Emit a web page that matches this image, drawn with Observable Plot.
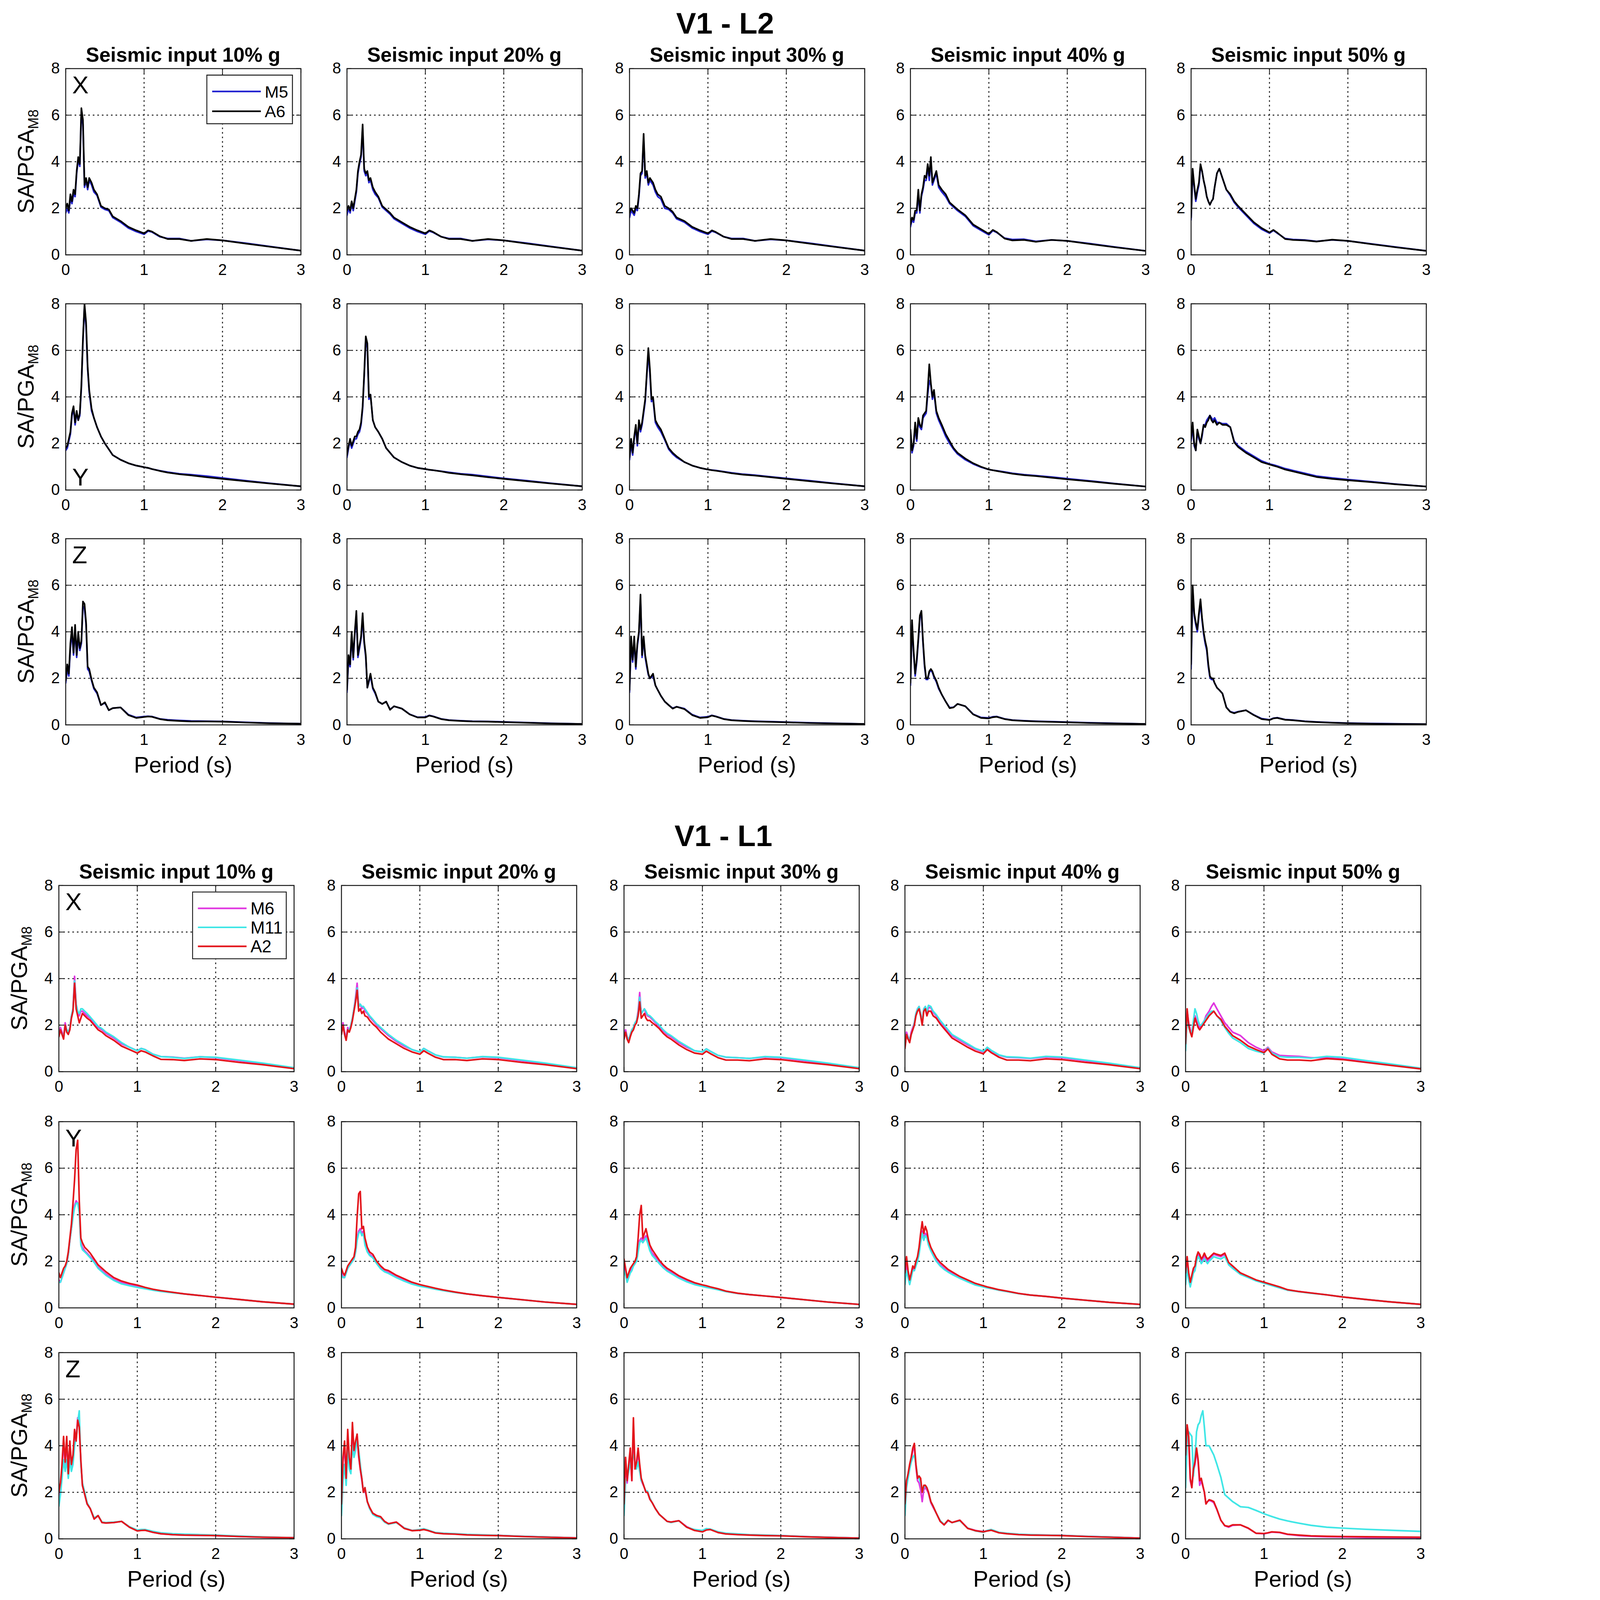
<!DOCTYPE html>
<html>
<head>
<meta charset="utf-8">
<script src="https://cdn.jsdelivr.net/npm/d3@7"></script>
<script src="https://cdn.jsdelivr.net/npm/@observablehq/plot@0.6"></script>
<style>
  html, body { margin: 0; padding: 0; background: #fff; overflow: hidden; }
  #fig { position: relative; width: 4435px; height: 4932px; background: #fff; overflow: hidden;
         font-family: "Liberation Sans", Arial, Helvetica, sans-serif; color: #000; transform-origin: 0 0; }
  .lbl { position: absolute; white-space: nowrap; transform: translate(-50%, -50%); line-height: 1; }
  .ylab { transform: translate(-50%, -50%) rotate(-90deg); }
  .panel { position: absolute; }
</style>
</head>
<body>
<div id="fig"></div>
<script>
// period grid shared by every spectrum (s)
const periods = [0, 0.02, 0.04, 0.06, 0.08, 0.1, 0.12, 0.14, 0.16, 0.18, 0.2, 0.22, 0.24, 0.26, 0.28, 0.3, 0.33, 0.36, 0.4, 0.45,
                 0.5, 0.55, 0.6, 0.7, 0.8, 0.9, 1.0, 1.05, 1.1, 1.2, 1.3, 1.45, 1.6, 1.8, 2.0, 2.3, 2.6, 3.0];
const levels = ["10%", "20%", "30%", "40%", "50%"];
const xTicks = [0, 1, 2, 3];
const yTicks = [0, 2, 4, 6, 8];

// ---- V1 - L2 : M5 / A6 ----
const L2_X10_M5 = [1.8, 2.0, 1.8, 2.4, 2.2, 2.6, 2.5, 3.5, 4.1, 3.8, 6.1, 5.6, 2.9, 3.2, 2.8, 3.2, 3.0, 2.7, 2.55, 2.05, 1.95, 1.9, 1.6, 1.4, 1.15, 1.0, 0.88, 1.02, 0.98, 0.78, 0.7, 0.7, 0.6, 0.66, 0.62, 0.5, 0.36, 0.18];
const L2_X10_A6 = [2.0, 2.2, 1.9, 2.6, 2.3, 2.8, 2.6, 3.6, 4.2, 3.9, 6.3, 5.8, 3.0, 3.3, 2.9, 3.3, 3.1, 2.8, 2.6, 2.1, 2.0, 1.95, 1.65, 1.45, 1.2, 1.05, 0.92, 1.05, 1.0, 0.8, 0.68, 0.68, 0.6, 0.68, 0.62, 0.48, 0.35, 0.18];
const L2_X20_M5 = [1.7, 2.0, 1.8, 2.2, 1.9, 2.3, 2.7, 3.5, 3.9, 4.2, 5.4, 3.6, 3.4, 3.5, 3.1, 3.2, 2.8, 2.6, 2.45, 2.05, 1.9, 1.75, 1.55, 1.35, 1.15, 1.0, 0.88, 1.02, 0.96, 0.78, 0.7, 0.7, 0.6, 0.66, 0.62, 0.5, 0.36, 0.18];
const L2_X20_A6 = [1.9, 2.1, 1.9, 2.3, 2.0, 2.4, 2.8, 3.6, 4.0, 4.3, 5.6, 3.7, 3.5, 3.6, 3.2, 3.3, 2.9, 2.7, 2.5, 2.1, 1.95, 1.8, 1.6, 1.4, 1.2, 1.05, 0.92, 1.05, 0.98, 0.78, 0.68, 0.68, 0.6, 0.68, 0.62, 0.48, 0.35, 0.18];
const L2_X30_M5 = [1.6, 1.9, 1.8, 1.7, 2.0, 1.9, 2.5, 3.4, 3.5, 5.0, 3.3, 3.5, 3.0, 3.2, 3.1, 3.0, 2.7, 2.5, 2.4, 2.0, 1.95, 1.8, 1.55, 1.4, 1.15, 1.0, 0.88, 1.02, 0.96, 0.78, 0.7, 0.7, 0.6, 0.66, 0.62, 0.5, 0.36, 0.18];
const L2_X30_A6 = [1.8, 2.0, 1.9, 1.8, 2.1, 2.0, 2.6, 3.5, 3.6, 5.2, 3.4, 3.6, 3.1, 3.3, 3.2, 3.1, 2.8, 2.6, 2.5, 2.1, 2.0, 1.85, 1.6, 1.45, 1.2, 1.05, 0.92, 1.05, 0.98, 0.78, 0.68, 0.68, 0.6, 0.68, 0.62, 0.48, 0.35, 0.18];
const L2_X40_M5 = [1.2, 1.5, 1.4, 1.8, 1.8, 2.6, 1.8, 2.5, 2.8, 3.2, 3.2, 3.8, 3.2, 4.1, 3.0, 3.2, 3.5, 2.9, 2.7, 2.5, 2.2, 2.05, 1.9, 1.65, 1.25, 1.05, 0.86, 1.04, 0.96, 0.72, 0.66, 0.67, 0.58, 0.64, 0.6, 0.48, 0.34, 0.17];
const L2_X40_A6 = [1.3, 1.6, 1.5, 1.9, 1.9, 2.8, 1.9, 2.6, 2.9, 3.4, 3.3, 3.9, 3.4, 4.2, 3.1, 3.3, 3.6, 3.0, 2.8, 2.6, 2.25, 2.1, 1.95, 1.7, 1.3, 1.1, 0.9, 1.07, 0.98, 0.7, 0.62, 0.64, 0.56, 0.64, 0.6, 0.46, 0.33, 0.17];
const L2_X50_M5 = [1.5, 3.5, 2.9, 2.3, 2.7, 3.0, 3.8, 3.6, 3.2, 2.9, 2.5, 2.3, 2.15, 2.3, 2.4, 2.9, 3.5, 3.7, 3.3, 2.8, 2.55, 2.25, 2.05, 1.7, 1.35, 1.1, 0.93, 1.05, 0.93, 0.7, 0.66, 0.64, 0.58, 0.64, 0.6, 0.47, 0.34, 0.17];
const L2_X50_A6 = [1.6, 3.7, 3.0, 2.4, 2.8, 3.1, 3.9, 3.6, 3.2, 2.9, 2.5, 2.3, 2.15, 2.3, 2.4, 2.9, 3.5, 3.7, 3.3, 2.8, 2.6, 2.3, 2.1, 1.75, 1.4, 1.15, 0.96, 1.07, 0.95, 0.68, 0.64, 0.62, 0.57, 0.65, 0.6, 0.46, 0.33, 0.17];

const L2_Y10_M5 = [1.7, 1.8, 2.1, 2.4, 3.2, 3.5, 2.8, 3.3, 3.0, 3.2, 4.4, 6.4, 7.9, 7.0, 5.2, 4.2, 3.4, 3.1, 2.7, 2.3, 2.0, 1.75, 1.5, 1.3, 1.15, 1.05, 0.98, 0.95, 0.9, 0.83, 0.77, 0.7, 0.66, 0.6, 0.52, 0.4, 0.29, 0.16];
const L2_Y10_A6 = [1.8, 1.9, 2.2, 2.5, 3.3, 3.6, 2.9, 3.4, 3.0, 3.3, 4.5, 6.5, 8.0, 7.2, 5.3, 4.3, 3.5, 3.1, 2.7, 2.3, 2.0, 1.75, 1.5, 1.3, 1.15, 1.05, 0.98, 0.95, 0.9, 0.82, 0.75, 0.68, 0.63, 0.55, 0.48, 0.38, 0.28, 0.16];
const L2_Y20_M5 = [1.4, 1.8, 2.1, 1.8, 2.0, 2.2, 2.2, 2.4, 2.5, 2.8, 3.5, 4.9, 6.5, 6.1, 3.9, 4.1, 3.0, 2.7, 2.5, 2.2, 1.8, 1.6, 1.4, 1.2, 1.05, 0.95, 0.9, 0.87, 0.85, 0.81, 0.76, 0.7, 0.66, 0.58, 0.5, 0.4, 0.29, 0.16];
const L2_Y20_A6 = [1.5, 1.9, 2.2, 1.9, 2.1, 2.3, 2.3, 2.5, 2.6, 2.9, 3.6, 5.0, 6.6, 6.3, 4.0, 4.1, 3.0, 2.7, 2.5, 2.2, 1.8, 1.6, 1.4, 1.2, 1.05, 0.95, 0.9, 0.87, 0.85, 0.8, 0.74, 0.68, 0.63, 0.55, 0.48, 0.38, 0.28, 0.16];
const L2_Y30_M5 = [1.3, 2.0, 1.5, 2.2, 2.7, 1.9, 2.9, 2.5, 2.8, 3.3, 3.8, 4.9, 5.9, 5.0, 3.8, 3.9, 2.9, 2.7, 2.5, 2.15, 1.75, 1.55, 1.4, 1.2, 1.05, 0.95, 0.88, 0.86, 0.84, 0.79, 0.74, 0.68, 0.64, 0.57, 0.5, 0.4, 0.29, 0.16];
const L2_Y30_A6 = [1.4, 2.2, 1.6, 2.3, 2.8, 2.0, 3.0, 2.6, 2.9, 3.4, 3.9, 5.0, 6.1, 5.2, 3.9, 4.0, 3.0, 2.8, 2.6, 2.2, 1.8, 1.6, 1.45, 1.2, 1.05, 0.95, 0.88, 0.85, 0.83, 0.78, 0.72, 0.66, 0.62, 0.55, 0.48, 0.38, 0.28, 0.16];
const L2_Y40_M5 = [2.4, 1.6, 1.9, 2.7, 2.1, 3.0, 2.7, 2.6, 3.1, 3.2, 3.3, 4.1, 4.7, 4.5, 3.9, 4.2, 3.3, 3.0, 2.7, 2.3, 2.0, 1.75, 1.55, 1.3, 1.12, 0.98, 0.88, 0.85, 0.83, 0.78, 0.72, 0.66, 0.62, 0.56, 0.49, 0.39, 0.28, 0.15];
const L2_Y40_A6 = [2.6, 1.7, 2.0, 2.9, 2.2, 3.1, 2.8, 2.7, 3.2, 3.3, 3.4, 4.3, 5.4, 4.6, 4.0, 4.3, 3.4, 3.1, 2.8, 2.4, 2.1, 1.8, 1.6, 1.35, 1.15, 1.0, 0.88, 0.85, 0.82, 0.76, 0.7, 0.64, 0.6, 0.53, 0.46, 0.37, 0.27, 0.15];
const L2_Y50_M5 = [2.1, 2.7, 1.9, 1.7, 2.5, 2.2, 2.0, 2.3, 2.8, 2.8, 3.0, 3.1, 3.2, 3.1, 3.0, 3.1, 2.9, 2.9, 2.85, 2.85, 2.7, 2.1, 1.9, 1.65, 1.45, 1.25, 1.12, 1.08, 1.03, 0.92, 0.84, 0.72, 0.6, 0.52, 0.45, 0.36, 0.26, 0.15];
const L2_Y50_A6 = [2.2, 2.9, 2.0, 1.7, 2.6, 2.3, 2.0, 2.4, 2.8, 2.7, 2.9, 3.0, 3.2, 3.0, 2.9, 3.0, 2.8, 2.9, 2.8, 2.8, 2.7, 2.05, 1.85, 1.6, 1.4, 1.2, 1.1, 1.05, 1.0, 0.88, 0.8, 0.68, 0.56, 0.48, 0.42, 0.34, 0.25, 0.15];

const L2_Z10_M5 = [1.8, 2.4, 2.1, 3.3, 4.0, 3.0, 4.1, 2.9, 3.8, 3.2, 3.5, 5.1, 5.0, 4.3, 2.4, 2.3, 1.9, 1.55, 1.35, 0.85, 0.95, 0.63, 0.72, 0.75, 0.44, 0.32, 0.36, 0.37, 0.36, 0.26, 0.22, 0.19, 0.17, 0.16, 0.15, 0.11, 0.08, 0.05];
const L2_Z10_A6 = [1.9, 2.6, 2.2, 3.5, 4.2, 3.1, 4.3, 3.0, 4.0, 3.3, 3.6, 5.3, 5.2, 4.4, 2.5, 2.4, 1.95, 1.6, 1.4, 0.85, 0.97, 0.63, 0.72, 0.75, 0.42, 0.3, 0.34, 0.36, 0.35, 0.25, 0.2, 0.17, 0.15, 0.15, 0.14, 0.1, 0.07, 0.05];
const L2_Z20_M5 = [1.4, 2.8, 2.5, 3.8, 2.8, 3.9, 4.7, 2.9, 3.3, 3.7, 4.6, 3.5, 2.9, 1.6, 1.85, 2.1, 1.55, 1.35, 1.0, 0.9, 1.0, 0.66, 0.8, 0.7, 0.46, 0.33, 0.34, 0.41, 0.37, 0.26, 0.21, 0.18, 0.16, 0.15, 0.13, 0.1, 0.07, 0.04];
const L2_Z20_A6 = [1.5, 3.0, 2.6, 4.0, 2.9, 4.0, 4.9, 3.0, 3.4, 3.8, 4.8, 3.6, 3.0, 1.6, 1.9, 2.2, 1.6, 1.4, 1.0, 0.9, 1.0, 0.65, 0.8, 0.7, 0.45, 0.32, 0.32, 0.4, 0.36, 0.25, 0.2, 0.17, 0.15, 0.14, 0.12, 0.09, 0.06, 0.04];
const L2_Z30_M5 = [1.4, 3.6, 2.7, 3.6, 2.4, 3.4, 3.9, 5.4, 2.9, 3.7, 2.9, 2.5, 2.15, 2.0, 2.05, 2.1, 1.7, 1.5, 1.25, 1.0, 0.85, 0.72, 0.78, 0.7, 0.44, 0.32, 0.35, 0.41, 0.37, 0.26, 0.21, 0.18, 0.16, 0.14, 0.12, 0.09, 0.07, 0.04];
const L2_Z30_A6 = [1.5, 3.8, 2.8, 3.8, 2.5, 3.5, 4.0, 5.6, 3.0, 3.8, 3.0, 2.6, 2.2, 2.0, 2.1, 2.2, 1.7, 1.5, 1.25, 1.0, 0.85, 0.7, 0.78, 0.68, 0.42, 0.3, 0.33, 0.4, 0.36, 0.25, 0.2, 0.17, 0.15, 0.13, 0.11, 0.08, 0.06, 0.04];
const L2_Z40_M5 = [1.7, 4.3, 3.1, 2.1, 2.7, 3.6, 4.6, 4.8, 3.5, 2.5, 1.95, 1.95, 2.25, 2.35, 2.25, 2.05, 1.85, 1.55, 1.3, 1.0, 0.74, 0.76, 0.9, 0.8, 0.46, 0.32, 0.3, 0.35, 0.36, 0.26, 0.21, 0.18, 0.16, 0.14, 0.12, 0.09, 0.07, 0.04];
const L2_Z40_A6 = [1.8, 4.5, 3.2, 2.2, 2.8, 3.7, 4.7, 4.9, 3.6, 2.6, 2.0, 2.0, 2.3, 2.4, 2.3, 2.1, 1.9, 1.6, 1.3, 1.0, 0.72, 0.75, 0.9, 0.8, 0.45, 0.3, 0.28, 0.33, 0.35, 0.25, 0.2, 0.17, 0.15, 0.13, 0.11, 0.08, 0.06, 0.04];
const L2_Z50_M5 = [2.4, 5.8, 4.7, 4.3, 4.0, 4.7, 5.2, 4.5, 3.9, 3.5, 3.2, 2.5, 2.05, 1.95, 1.95, 1.8, 1.6, 1.5, 1.35, 0.76, 0.57, 0.52, 0.57, 0.63, 0.43, 0.27, 0.22, 0.29, 0.31, 0.23, 0.21, 0.16, 0.13, 0.1, 0.08, 0.06, 0.05, 0.03];
const L2_Z50_A6 = [2.6, 6.0, 4.8, 4.4, 4.1, 4.8, 5.4, 4.6, 4.0, 3.6, 3.3, 2.6, 2.1, 2.0, 2.0, 1.8, 1.6, 1.5, 1.35, 0.75, 0.56, 0.5, 0.56, 0.63, 0.42, 0.25, 0.21, 0.28, 0.3, 0.22, 0.2, 0.15, 0.12, 0.09, 0.07, 0.05, 0.04, 0.03];

// ---- V1 - L1 : M6 / M11 / A2 ----
const L1_X10_M6 = [1.6, 1.9, 1.7, 1.5, 2.1, 1.8, 1.7, 1.9, 2.4, 2.7, 4.1, 2.9, 2.6, 2.4, 2.6, 2.6, 2.5, 2.4, 2.3, 2.1, 1.9, 1.8, 1.65, 1.45, 1.2, 1.05, 0.9, 1.0, 0.95, 0.75, 0.65, 0.63, 0.58, 0.64, 0.6, 0.47, 0.34, 0.16];
const L1_X10_M11 = [1.5, 1.8, 1.6, 1.5, 2.0, 1.8, 1.7, 1.9, 2.4, 2.7, 3.9, 2.9, 2.6, 2.5, 2.7, 2.7, 2.6, 2.5, 2.35, 2.15, 1.95, 1.85, 1.7, 1.5, 1.25, 1.05, 0.9, 1.0, 0.95, 0.75, 0.65, 0.62, 0.57, 0.64, 0.62, 0.5, 0.37, 0.17];
const L1_X10_A2 = [1.5, 1.8, 1.6, 1.4, 2.0, 1.7, 1.6, 1.8, 2.3, 2.6, 3.8, 2.7, 2.4, 2.1, 2.3, 2.5, 2.4, 2.3, 2.2, 2.0, 1.8, 1.7, 1.55, 1.35, 1.1, 0.95, 0.8, 0.9, 0.85, 0.68, 0.53, 0.52, 0.48, 0.55, 0.52, 0.4, 0.3, 0.13];
const L1_X20_M6 = [1.7, 2.1, 1.7, 1.45, 1.9, 1.8, 2.0, 2.3, 2.7, 3.2, 3.8, 2.8, 2.9, 2.7, 2.8, 2.6, 2.5, 2.35, 2.2, 2.0, 1.85, 1.7, 1.55, 1.3, 1.1, 0.95, 0.85, 1.0, 0.9, 0.72, 0.63, 0.62, 0.58, 0.64, 0.6, 0.47, 0.34, 0.16];
const L1_X20_M11 = [1.6, 2.0, 1.6, 1.4, 1.8, 1.8, 2.0, 2.3, 2.7, 3.1, 3.6, 2.8, 2.9, 2.8, 2.8, 2.7, 2.55, 2.4, 2.25, 2.05, 1.9, 1.75, 1.6, 1.35, 1.15, 0.95, 0.85, 1.0, 0.9, 0.72, 0.64, 0.62, 0.58, 0.65, 0.62, 0.5, 0.37, 0.17];
const L1_X20_A2 = [1.6, 2.0, 1.6, 1.35, 1.8, 1.7, 1.9, 2.2, 2.6, 3.0, 3.5, 2.6, 2.7, 2.5, 2.6, 2.4, 2.35, 2.2, 2.05, 1.9, 1.7, 1.55, 1.4, 1.2, 1.0, 0.85, 0.75, 0.9, 0.8, 0.62, 0.52, 0.52, 0.48, 0.55, 0.52, 0.4, 0.3, 0.13];
const L1_X30_M6 = [1.5, 1.8, 1.5, 1.35, 1.6, 1.8, 1.9, 2.1, 2.2, 2.6, 3.4, 2.5, 2.6, 2.7, 2.5, 2.4, 2.35, 2.25, 2.1, 1.95, 1.75, 1.6, 1.5, 1.25, 1.05, 0.9, 0.85, 0.98, 0.88, 0.7, 0.62, 0.6, 0.57, 0.63, 0.6, 0.47, 0.34, 0.16];
const L1_X30_M11 = [1.4, 1.7, 1.5, 1.3, 1.6, 1.8, 1.9, 2.1, 2.2, 2.5, 3.2, 2.5, 2.6, 2.7, 2.6, 2.45, 2.4, 2.3, 2.15, 2.0, 1.8, 1.65, 1.55, 1.3, 1.1, 0.9, 0.85, 0.98, 0.88, 0.7, 0.63, 0.6, 0.57, 0.65, 0.62, 0.5, 0.37, 0.17];
const L1_X30_A2 = [1.4, 1.7, 1.4, 1.25, 1.5, 1.7, 1.8, 2.0, 2.1, 2.4, 3.0, 2.3, 2.4, 2.5, 2.3, 2.2, 2.2, 2.1, 2.0, 1.85, 1.65, 1.5, 1.4, 1.15, 0.95, 0.8, 0.75, 0.88, 0.78, 0.6, 0.5, 0.5, 0.47, 0.55, 0.52, 0.4, 0.3, 0.13];
const L1_X40_M6 = [1.1, 1.7, 1.5, 1.35, 1.7, 1.9, 2.1, 2.5, 2.7, 2.8, 2.5, 2.1, 2.7, 2.8, 2.5, 2.75, 2.75, 2.55, 2.4, 2.15, 1.95, 1.75, 1.55, 1.35, 1.15, 0.97, 0.85, 1.02, 0.9, 0.7, 0.62, 0.6, 0.57, 0.63, 0.6, 0.47, 0.34, 0.16];
const L1_X40_M11 = [1.0, 1.6, 1.5, 1.3, 1.6, 1.8, 2.1, 2.5, 2.7, 2.8, 2.5, 2.1, 2.7, 2.8, 2.6, 2.85, 2.8, 2.6, 2.45, 2.2, 2.0, 1.8, 1.6, 1.4, 1.2, 1.0, 0.88, 1.05, 0.92, 0.72, 0.64, 0.62, 0.58, 0.66, 0.63, 0.5, 0.37, 0.17];
const L1_X40_A2 = [1.0, 1.6, 1.4, 1.25, 1.6, 1.8, 2.0, 2.4, 2.6, 2.7, 2.4, 2.0, 2.6, 2.7, 2.4, 2.6, 2.6, 2.4, 2.3, 2.05, 1.85, 1.65, 1.45, 1.25, 1.05, 0.88, 0.77, 0.95, 0.82, 0.62, 0.5, 0.5, 0.47, 0.55, 0.52, 0.4, 0.3, 0.13];
const L1_X50_M6 = [1.3, 2.6, 2.1, 1.8, 1.6, 2.0, 2.4, 2.2, 2.0, 1.9, 2.0, 2.1, 2.2, 2.4, 2.5, 2.6, 2.8, 2.95, 2.7, 2.4, 2.1, 1.9, 1.7, 1.55, 1.25, 1.05, 0.9, 1.05, 0.85, 0.7, 0.68, 0.66, 0.6, 0.6, 0.55, 0.42, 0.3, 0.13];
const L1_X50_M11 = [0.9, 2.3, 1.9, 1.7, 1.7, 2.2, 2.7, 2.5, 2.2, 2.0, 2.0, 2.1, 2.2, 2.3, 2.4, 2.5, 2.6, 2.6, 2.4, 2.2, 1.9, 1.65, 1.45, 1.25, 1.0, 0.88, 0.8, 1.02, 0.8, 0.65, 0.62, 0.62, 0.58, 0.66, 0.62, 0.48, 0.34, 0.15];
const L1_X50_A2 = [1.2, 2.7, 2.0, 1.7, 1.5, 1.9, 2.3, 2.1, 1.9, 1.8, 1.9, 2.0, 2.1, 2.2, 2.3, 2.4, 2.5, 2.6, 2.4, 2.25, 1.95, 1.75, 1.55, 1.35, 1.1, 0.95, 0.82, 0.98, 0.75, 0.55, 0.5, 0.5, 0.47, 0.56, 0.52, 0.4, 0.28, 0.12];

const L1_Y10_M6 = [1.2, 1.1, 1.3, 1.5, 1.7, 1.9, 2.3, 2.9, 3.4, 4.0, 4.4, 4.6, 4.5, 4.2, 2.8, 2.6, 2.45, 2.35, 2.2, 2.0, 1.75, 1.6, 1.45, 1.22, 1.08, 1.0, 0.92, 0.88, 0.84, 0.78, 0.72, 0.66, 0.6, 0.53, 0.46, 0.36, 0.26, 0.16];
const L1_Y10_M11 = [1.1, 1.1, 1.3, 1.5, 1.7, 1.9, 2.3, 2.9, 3.4, 3.9, 4.3, 4.5, 4.5, 4.1, 2.7, 2.5, 2.4, 2.3, 2.15, 1.95, 1.7, 1.55, 1.4, 1.18, 1.03, 0.95, 0.88, 0.85, 0.82, 0.76, 0.71, 0.65, 0.6, 0.53, 0.46, 0.36, 0.26, 0.16];
const L1_Y10_A2 = [1.5, 1.3, 1.5, 1.7, 1.8, 2.0, 2.4, 3.0, 3.6, 4.5, 5.5, 6.8, 7.2, 4.6, 3.0, 2.8, 2.6, 2.5, 2.35, 2.1, 1.85, 1.7, 1.55, 1.3, 1.15, 1.05, 0.98, 0.93, 0.88, 0.8, 0.74, 0.67, 0.6, 0.53, 0.46, 0.36, 0.26, 0.16];
const L1_Y20_M6 = [1.5, 1.35, 1.3, 1.5, 1.7, 1.8, 1.9, 2.0, 2.1, 2.4, 3.0, 3.3, 3.4, 3.2, 3.3, 2.8, 2.45, 2.3, 2.2, 1.95, 1.72, 1.58, 1.52, 1.33, 1.18, 1.05, 0.95, 0.92, 0.88, 0.82, 0.75, 0.67, 0.6, 0.52, 0.45, 0.35, 0.25, 0.15];
const L1_Y20_M11 = [1.4, 1.3, 1.3, 1.5, 1.7, 1.8, 1.9, 2.0, 2.1, 2.4, 2.9, 3.2, 3.3, 3.1, 3.2, 2.7, 2.4, 2.25, 2.15, 1.9, 1.68, 1.55, 1.48, 1.3, 1.15, 1.02, 0.93, 0.9, 0.87, 0.8, 0.74, 0.66, 0.6, 0.52, 0.45, 0.35, 0.25, 0.15];
const L1_Y20_A2 = [1.7, 1.5, 1.4, 1.6, 1.8, 1.9, 2.0, 2.1, 2.2, 2.6, 3.9, 4.9, 5.0, 3.4, 3.5, 3.0, 2.6, 2.4, 2.3, 2.0, 1.8, 1.65, 1.6, 1.4, 1.25, 1.1, 1.0, 0.96, 0.92, 0.84, 0.77, 0.68, 0.6, 0.52, 0.45, 0.35, 0.25, 0.15];
const L1_Y30_M6 = [1.8, 1.5, 1.2, 1.4, 1.6, 1.7, 1.8, 1.9, 2.1, 2.5, 2.9, 3.0, 2.9, 3.0, 3.1, 2.9, 2.55, 2.35, 2.2, 1.95, 1.76, 1.62, 1.52, 1.32, 1.16, 1.03, 0.94, 0.9, 0.87, 0.8, 0.71, 0.62, 0.57, 0.51, 0.45, 0.35, 0.25, 0.15];
const L1_Y30_M11 = [1.6, 1.4, 1.1, 1.3, 1.5, 1.6, 1.8, 1.9, 2.0, 2.4, 2.8, 2.9, 2.8, 2.9, 3.0, 2.8, 2.45, 2.25, 2.1, 1.9, 1.72, 1.58, 1.48, 1.28, 1.12, 1.0, 0.92, 0.88, 0.85, 0.78, 0.7, 0.62, 0.57, 0.51, 0.45, 0.35, 0.25, 0.15];
const L1_Y30_A2 = [2.1, 1.7, 1.3, 1.5, 1.7, 1.8, 1.9, 2.0, 2.2, 3.0, 4.0, 4.4, 3.0, 3.2, 3.4, 3.1, 2.7, 2.5, 2.3, 2.05, 1.85, 1.7, 1.6, 1.38, 1.22, 1.08, 0.99, 0.95, 0.9, 0.82, 0.72, 0.63, 0.57, 0.51, 0.45, 0.35, 0.25, 0.15];
const L1_Y40_M6 = [1.3, 1.9, 1.4, 1.1, 1.4, 1.7, 1.6, 1.9, 2.1, 2.4, 2.9, 3.3, 3.0, 3.2, 3.1, 2.75, 2.5, 2.3, 2.05, 1.85, 1.7, 1.58, 1.48, 1.3, 1.15, 1.0, 0.92, 0.88, 0.84, 0.77, 0.71, 0.62, 0.55, 0.49, 0.42, 0.33, 0.24, 0.15];
const L1_Y40_M11 = [1.0, 1.6, 1.3, 1.0, 1.3, 1.6, 1.6, 1.8, 2.0, 2.3, 2.8, 3.2, 2.9, 3.1, 3.0, 2.7, 2.45, 2.25, 2.0, 1.8, 1.65, 1.54, 1.44, 1.27, 1.12, 0.98, 0.9, 0.86, 0.83, 0.76, 0.7, 0.61, 0.55, 0.49, 0.42, 0.33, 0.24, 0.15];
const L1_Y40_A2 = [1.5, 2.2, 1.6, 1.2, 1.5, 1.8, 1.7, 2.0, 2.2, 2.6, 3.2, 3.7, 3.2, 3.5, 3.3, 2.9, 2.6, 2.4, 2.15, 1.95, 1.8, 1.65, 1.55, 1.35, 1.2, 1.05, 0.95, 0.9, 0.86, 0.78, 0.72, 0.62, 0.55, 0.49, 0.42, 0.33, 0.24, 0.15];
const L1_Y50_M6 = [1.3, 1.9, 1.3, 1.0, 1.3, 1.6, 1.7, 2.1, 2.3, 2.2, 2.0, 2.1, 2.25, 2.1, 2.0, 2.1, 2.2, 2.3, 2.25, 2.2, 2.3, 1.9, 1.75, 1.47, 1.32, 1.18, 1.08, 1.03, 0.98, 0.88, 0.77, 0.7, 0.64, 0.56, 0.47, 0.36, 0.26, 0.15];
const L1_Y50_M11 = [1.0, 1.7, 1.2, 0.9, 1.2, 1.5, 1.6, 2.0, 2.2, 2.1, 1.9, 2.0, 2.1, 2.0, 1.9, 2.0, 2.1, 2.2, 2.15, 2.1, 2.2, 1.85, 1.7, 1.44, 1.3, 1.16, 1.06, 1.01, 0.96, 0.86, 0.76, 0.69, 0.63, 0.56, 0.47, 0.36, 0.26, 0.15];
const L1_Y50_A2 = [1.5, 2.2, 1.5, 1.1, 1.4, 1.7, 1.8, 2.2, 2.4, 2.3, 2.1, 2.2, 2.35, 2.2, 2.1, 2.15, 2.25, 2.35, 2.3, 2.25, 2.35, 1.95, 1.8, 1.5, 1.35, 1.2, 1.1, 1.05, 1.0, 0.9, 0.78, 0.7, 0.64, 0.56, 0.47, 0.36, 0.26, 0.15];

const L1_Z10_M6 = [1.8, 2.3, 3.0, 4.2, 3.2, 4.2, 2.8, 4.0, 3.1, 3.5, 4.5, 4.3, 5.2, 5.0, 3.3, 2.3, 1.9, 1.5, 1.3, 0.85, 1.0, 0.7, 0.68, 0.7, 0.75, 0.5, 0.35, 0.37, 0.38, 0.28, 0.22, 0.18, 0.16, 0.15, 0.14, 0.1, 0.07, 0.05];
const L1_Z10_M11 = [1.4, 1.9, 2.6, 3.4, 2.9, 3.4, 2.6, 3.4, 2.9, 3.2, 4.0, 4.3, 5.0, 5.5, 3.2, 2.4, 2.0, 1.55, 1.3, 0.9, 1.0, 0.72, 0.7, 0.72, 0.75, 0.52, 0.38, 0.4, 0.4, 0.32, 0.26, 0.22, 0.2, 0.18, 0.16, 0.12, 0.08, 0.05];
const L1_Z10_A2 = [2.0, 2.4, 3.2, 4.4, 3.3, 4.4, 2.8, 4.2, 3.2, 3.6, 4.7, 4.2, 5.1, 4.8, 3.4, 2.3, 1.9, 1.5, 1.3, 0.85, 1.0, 0.7, 0.68, 0.7, 0.75, 0.5, 0.34, 0.36, 0.37, 0.28, 0.22, 0.18, 0.16, 0.15, 0.14, 0.1, 0.07, 0.05];
const L1_Z20_M6 = [1.4, 3.3, 4.0, 2.5, 4.5, 3.4, 3.0, 4.8, 3.7, 4.0, 4.4, 3.5, 3.0, 2.5, 2.0, 2.1, 1.6, 1.3, 1.1, 1.0, 0.93, 0.75, 0.65, 0.72, 0.47, 0.36, 0.38, 0.41, 0.37, 0.26, 0.23, 0.21, 0.18, 0.16, 0.15, 0.11, 0.08, 0.04];
const L1_Z20_M11 = [1.0, 2.5, 3.2, 2.3, 3.8, 3.0, 2.8, 4.0, 3.5, 3.8, 4.3, 3.8, 3.2, 2.6, 2.0, 2.2, 1.6, 1.3, 1.05, 0.95, 0.9, 0.72, 0.63, 0.7, 0.47, 0.36, 0.4, 0.43, 0.38, 0.27, 0.24, 0.22, 0.19, 0.17, 0.15, 0.11, 0.08, 0.04];
const L1_Z20_A2 = [1.5, 3.5, 4.2, 2.6, 4.7, 3.5, 3.0, 5.0, 3.8, 4.2, 4.5, 3.6, 3.0, 2.6, 2.0, 2.2, 1.6, 1.35, 1.1, 1.0, 0.95, 0.75, 0.65, 0.72, 0.45, 0.35, 0.37, 0.4, 0.36, 0.25, 0.22, 0.2, 0.17, 0.15, 0.14, 0.1, 0.07, 0.04];
const L1_Z30_M6 = [1.4, 3.3, 2.4, 3.1, 3.7, 2.5, 4.6, 3.2, 3.2, 3.7, 3.1, 2.5, 2.35, 2.2, 2.0, 2.0, 1.7, 1.55, 1.3, 1.05, 0.9, 0.75, 0.72, 0.78, 0.52, 0.38, 0.32, 0.4, 0.41, 0.28, 0.22, 0.19, 0.17, 0.15, 0.14, 0.1, 0.07, 0.03];
const L1_Z30_M11 = [1.0, 2.5, 2.6, 2.9, 3.2, 3.4, 3.6, 3.3, 3.0, 3.3, 2.9, 2.5, 2.4, 2.2, 2.05, 2.05, 1.75, 1.55, 1.3, 1.05, 0.9, 0.75, 0.7, 0.78, 0.5, 0.4, 0.36, 0.44, 0.42, 0.3, 0.24, 0.21, 0.18, 0.16, 0.14, 0.1, 0.07, 0.03];
const L1_Z30_A2 = [1.5, 3.5, 2.5, 3.2, 3.9, 2.5, 5.2, 3.0, 3.3, 3.9, 3.2, 2.6, 2.4, 2.2, 2.0, 2.0, 1.7, 1.55, 1.3, 1.05, 0.9, 0.75, 0.72, 0.78, 0.5, 0.36, 0.3, 0.38, 0.4, 0.27, 0.21, 0.18, 0.16, 0.14, 0.13, 0.09, 0.06, 0.03];
const L1_Z40_M6 = [1.4, 2.4, 2.7, 3.1, 3.4, 3.8, 3.9, 3.1, 2.5, 2.4, 2.1, 1.6, 2.1, 2.2, 2.1, 1.95, 1.55, 1.35, 1.1, 0.75, 0.6, 0.78, 0.7, 0.8, 0.46, 0.36, 0.31, 0.35, 0.38, 0.27, 0.23, 0.19, 0.17, 0.16, 0.15, 0.11, 0.08, 0.03];
const L1_Z40_M11 = [1.0, 2.2, 2.6, 3.0, 3.3, 3.5, 3.6, 3.2, 2.7, 2.6, 2.4, 2.0, 2.2, 2.3, 2.2, 2.0, 1.6, 1.4, 1.1, 0.78, 0.62, 0.8, 0.7, 0.78, 0.46, 0.34, 0.28, 0.36, 0.4, 0.28, 0.24, 0.2, 0.18, 0.16, 0.15, 0.11, 0.08, 0.03];
const L1_Z40_A2 = [1.5, 2.5, 2.8, 3.2, 3.5, 3.9, 4.1, 3.2, 2.6, 2.7, 2.6, 2.0, 2.3, 2.3, 2.2, 2.0, 1.6, 1.4, 1.1, 0.75, 0.6, 0.8, 0.7, 0.8, 0.45, 0.35, 0.3, 0.34, 0.37, 0.26, 0.22, 0.18, 0.16, 0.15, 0.14, 0.1, 0.07, 0.03];
const L1_Z50_M6 = [3.4, 4.8, 4.3, 2.5, 2.2, 2.9, 3.2, 3.8, 3.3, 2.3, 2.5, 2.25, 2.0, 1.5, 1.6, 1.65, 1.62, 1.55, 1.25, 0.8, 0.56, 0.5, 0.58, 0.6, 0.45, 0.24, 0.22, 0.25, 0.29, 0.27, 0.19, 0.14, 0.11, 0.09, 0.08, 0.06, 0.05, 0.04];
const L1_Z50_M11 = [2.2, 4.2, 4.6, 4.5, 4.4, 2.7, 3.5, 4.6, 4.9, 5.0, 5.3, 5.5, 4.8, 4.0, 4.0, 4.0, 3.8, 3.6, 3.2, 2.65, 1.9, 1.75, 1.6, 1.38, 1.35, 1.22, 1.08, 1.02, 0.96, 0.85, 0.77, 0.67, 0.58, 0.5, 0.46, 0.41, 0.37, 0.32];
const L1_Z50_A2 = [3.6, 4.9, 4.4, 2.6, 2.2, 3.0, 3.3, 3.9, 3.4, 2.5, 2.6, 2.3, 2.0, 1.5, 1.6, 1.68, 1.65, 1.6, 1.27, 0.8, 0.57, 0.53, 0.6, 0.6, 0.46, 0.24, 0.23, 0.26, 0.3, 0.28, 0.2, 0.16, 0.13, 0.11, 0.1, 0.09, 0.08, 0.07];

const l2Names = ["M5", "A6"];
const l2Colors = ["#2424d0", "#000000"];
const l1Names = ["M6", "M11", "A2"];
const l1Colors = ["#e036e0", "#3fe6e6", "#e3151b"];

const groups = [
  {
    title: "V1 - L2", titleX: 2235, titleY: 72,
    names: l2Names, colors: l2Colors,
    cols: [202, 1069, 1940, 2806, 3671],
    rows: [211, 936, 1660],
    dirAnchor: {X: "top", Y: "bottom", Z: "top"},
    legend: {dx: 434, w: 267, step: 61, font: 52},
    data: {
      X: [[L2_X10_M5, L2_X10_A6], [L2_X20_M5, L2_X20_A6], [L2_X30_M5, L2_X30_A6], [L2_X40_M5, L2_X40_A6], [L2_X50_M5, L2_X50_A6]],
      Y: [[L2_Y10_M5, L2_Y10_A6], [L2_Y20_M5, L2_Y20_A6], [L2_Y30_M5, L2_Y30_A6], [L2_Y40_M5, L2_Y40_A6], [L2_Y50_M5, L2_Y50_A6]],
      Z: [[L2_Z10_M5, L2_Z10_A6], [L2_Z20_M5, L2_Z20_A6], [L2_Z30_M5, L2_Z30_A6], [L2_Z40_M5, L2_Z40_A6], [L2_Z50_M5, L2_Z50_A6]]
    }
  },
  {
    title: "V1 - L1", titleX: 2230, titleY: 2576,
    names: l1Names, colors: l1Colors,
    cols: [181, 1052, 1923, 2789, 3654],
    rows: [2729, 3457, 4169],
    dirAnchor: {X: "top", Y: "top", Z: "top"},
    legend: {dx: 411, w: 292, step: 58.5, font: 53},
    data: {
      X: [[L1_X10_M6, L1_X10_M11, L1_X10_A2], [L1_X20_M6, L1_X20_M11, L1_X20_A2], [L1_X30_M6, L1_X30_M11, L1_X30_A2], [L1_X40_M6, L1_X40_M11, L1_X40_A2], [L1_X50_M6, L1_X50_M11, L1_X50_A2]],
      Y: [[L1_Y10_M6, L1_Y10_M11, L1_Y10_A2], [L1_Y20_M6, L1_Y20_M11, L1_Y20_A2], [L1_Y30_M6, L1_Y30_M11, L1_Y30_A2], [L1_Y40_M6, L1_Y40_M11, L1_Y40_A2], [L1_Y50_M6, L1_Y50_M11, L1_Y50_A2]],
      Z: [[L1_Z10_M6, L1_Z10_M11, L1_Z10_A2], [L1_Z20_M6, L1_Z20_M11, L1_Z20_A2], [L1_Z30_M6, L1_Z30_M11, L1_Z30_A2], [L1_Z40_M6, L1_Z40_M11, L1_Z40_A2], [L1_Z50_M6, L1_Z50_M11, L1_Z50_A2]]
    }
  }
];

const FONT = "Liberation Sans, Arial, Helvetica, sans-serif";
const INK = "#1a1a1a";
const W = 725, H = 574;               // axes box
const ML = 90, MR = 40, MT = 40, MB = 100;
const fig = d3.select("#fig");

function label(html, x, y, size, weight, cls) {
  fig.append("div").attr("class", "lbl " + (cls || ""))
    .style("left", x + "px").style("top", y + "px")
    .style("font-size", size + "px").style("font-weight", weight)
    .html(html);
}

function panel(series, colors, dir, anchor) {
  const dotted = {stroke: INK, strokeOpacity: 1, strokeWidth: 3, strokeDasharray: "5,9"};
  return Plot.plot({
    width: W + ML + MR, height: H + MT + MB,
    marginLeft: ML, marginRight: MR, marginTop: MT, marginBottom: MB,
    x: {domain: [0, 3]},
    y: {domain: [0, 8]},
    style: {fontFamily: FONT, fontSize: "48px", color: "#000", background: "transparent", overflow: "visible"},
    marks: [
      Plot.gridX({ticks: [1, 2], ...dotted}),
      Plot.gridY({ticks: [2, 4, 6], ...dotted}),
      ...series.map((vals, k) => Plot.line(periods.map((p, i) => ({period: p, sa: vals[i]})),
        {x: "period", y: "sa", stroke: colors[k], strokeWidth: 5, clip: true})),
      // matlab-style inward ticks on all four sides
      Plot.tickX(xTicks, {x: d => d, insetTop: H - 14, stroke: INK, strokeWidth: 2.5}),
      Plot.tickX(xTicks, {x: d => d, insetBottom: H - 14, stroke: INK, strokeWidth: 2.5}),
      Plot.tickY(yTicks, {y: d => d, insetRight: W - 14, stroke: INK, strokeWidth: 2.5}),
      Plot.tickY(yTicks, {y: d => d, insetLeft: W - 14, stroke: INK, strokeWidth: 2.5}),
      Plot.frame({stroke: INK, strokeWidth: 3}),
      Plot.axisX({ticks: xTicks, tickFormat: d => String(d), tickSize: 0, tickPadding: 28, label: null, fontSize: 48}),
      Plot.axisY({ticks: yTicks, tickFormat: d => String(d), tickSize: 0, tickPadding: 18, label: null, fontSize: 48}),
      dir ? Plot.text([dir], {
        text: d => d,
        frameAnchor: anchor === "top" ? "top-left" : "bottom-left",
        lineAnchor: anchor, textAnchor: "start",
        dx: 20, dy: anchor === "top" ? 22 : -14, fontSize: 76, fill: "#000"
      }) : null
    ]
  });
}

function legend(g, left, top) {
  const L = g.legend, n = g.names.length;
  const h = 52 + (n - 1) * L.step + 40;
  const svg = fig.append("svg").style("position", "absolute")
    .style("left", left + "px").style("top", top + "px")
    .attr("width", L.w).attr("height", h);
  svg.append("rect").attr("x", 1.5).attr("y", 1.5).attr("width", L.w - 3).attr("height", h - 3)
    .attr("fill", "#fff").attr("stroke", INK).attr("stroke-width", 3);
  g.names.forEach((nm, k) => {
    const y = 52 + k * L.step;
    svg.append("line").attr("x1", 18).attr("x2", 168).attr("y1", y).attr("y2", y)
      .attr("stroke", g.colors[k]).attr("stroke-width", 5);
    svg.append("text").attr("x", 180).attr("y", y).attr("dy", "0.36em")
      .attr("font-family", FONT).attr("font-size", L.font).text(nm);
  });
}

const dirs = ["X", "Y", "Z"];
groups.forEach(g => {
  label(g.title, g.titleX, g.titleY, 92, 700);
  g.cols.forEach((cx, c) => {
    label(`Seismic input ${levels[c]} g`, cx + W / 2, g.rows[0] - 42, 62, 700);
    label("Period (s)", cx + W / 2, g.rows[2] + H + 124, 70, 400);
  });
  dirs.forEach((d, r) => {
    label('SA/PGA<span style="font-size:62%;position:relative;top:0.32em">M8</span>',
          g.cols[0] - 122, g.rows[r] + H / 2, 70, 400, "ylab");
    g.cols.forEach((cx, c) => {
      const chart = panel(g.data[d][c], g.colors, c === 0 ? d : null, g.dirAnchor[d]);
      fig.append("div").attr("class", "panel")
        .style("left", (cx - ML) + "px").style("top", (g.rows[r] - MT) + "px")
        .style("width", (W + ML + MR) + "px")
        .append(() => chart);
    });
  });
  legend(g, g.cols[0] + g.legend.dx, g.rows[0] + 19);
});

// fit the 4435 x 4932 figure into whatever viewport the page gets
const fit = Math.min(window.innerWidth / 4435, window.innerHeight / 4932);
if (fit > 0 && fit < 1) fig.style("transform", `scale(${fit})`);
</script>
</body>
</html>
